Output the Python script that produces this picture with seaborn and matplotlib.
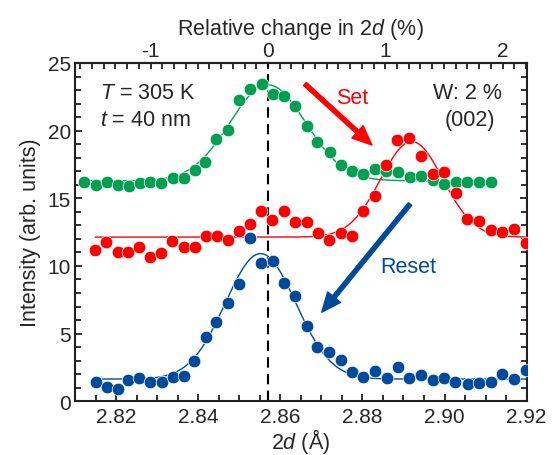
import numpy as np
import pandas as pd
import matplotlib
matplotlib.use("Agg")
import matplotlib.pyplot as plt
import seaborn as sns
from matplotlib.ticker import MultipleLocator, FixedLocator

# 세 가지 상태의 회절 피크 데이터
green_x = [2.8122, 2.8150, 2.8177, 2.8204, 2.8231, 2.8258, 2.8283, 2.8310, 2.8338, 2.8365,
           2.8392, 2.8417, 2.8443, 2.8473, 2.8500, 2.8527, 2.8555, 2.8582, 2.8609, 2.8637,
           2.8664, 2.8690, 2.8721, 2.8747, 2.8774, 2.8802, 2.8831, 2.8857, 2.8887, 2.8916,
           2.8942, 2.8971, 2.8999, 2.9028, 2.9055, 2.9085, 2.9112]
green_y = [16.23, 15.99, 16.19, 16.01, 15.94, 16.13, 16.19, 16.13, 16.53, 16.48,
           17.10, 17.66, 19.39, 20.07, 22.29, 23.08, 23.45, 22.71, 22.59, 21.85,
           20.37, 19.14, 18.40, 17.45, 17.05, 16.80, 17.17, 17.00, 16.92, 16.55,
           16.68, 16.38, 16.06, 16.23, 16.23, 16.23, 16.19]

red_x = [2.8149, 2.8175, 2.8204, 2.8230, 2.8257, 2.8283, 2.8309, 2.8336, 2.8365, 2.8392,
         2.8419, 2.8446, 2.8473, 2.8500, 2.8527, 2.8553, 2.8581, 2.8609, 2.8637, 2.8664,
         2.8691, 2.8719, 2.8747, 2.8775, 2.8801, 2.8831, 2.8857, 2.8885, 2.8914, 2.8942,
         2.8971, 2.8999, 2.9027, 2.9055, 2.9085, 2.9112, 2.9141, 2.9170, 2.9198]
red_y = [11.20, 11.80, 11.01, 11.06, 11.38, 10.64, 10.94, 11.87, 11.38, 11.38,
         12.20, 12.24, 11.94, 12.61, 13.10, 14.04, 13.42, 14.04, 13.27, 13.23,
         12.40, 11.91, 12.47, 12.22, 14.03, 15.17, 17.44, 19.31, 19.46, 18.15,
         16.83, 16.98, 15.40, 13.45, 13.31, 12.64, 12.51, 12.73, 11.66]

blue_x = [2.8150, 2.8177, 2.8205, 2.8230, 2.8257, 2.8283, 2.8311, 2.8338, 2.8365, 2.8391,
          2.8418, 2.8443, 2.8473, 2.8500, 2.8527, 2.8553, 2.8582, 2.8609, 2.8637, 2.8664,
          2.8689, 2.8719, 2.8747, 2.8775, 2.8802, 2.8831, 2.8859, 2.8886, 2.8914, 2.8942,
          2.8971, 2.8999, 2.9025, 2.9056, 2.9085, 2.9112, 2.9141, 2.9169, 2.9198]
blue_y = [1.40, 1.08, 0.91, 1.60, 1.72, 1.45, 1.40, 1.82, 1.89, 3.00,
          4.73, 5.84, 7.27, 8.67, 12.05, 10.22, 10.39, 8.74, 7.76, 5.54,
          3.99, 3.67, 3.07, 2.14, 1.77, 2.26, 1.72, 2.56, 1.72, 1.97,
          1.57, 1.72, 1.40, 1.28, 1.35, 1.40, 2.02, 1.65, 2.31]

x_ticks = [2.82, 2.84, 2.86, 2.88, 2.90, 2.92]
x_ticklabels = ["2.82", "2.84", "2.86", "2.88", "2.90", "2.92"]
top_ticks = [-1, 0, 1, 2]

d0 = 2.857  # 기준 2d 값 (점선)

GREEN = "#00a050"
RED = "#ff0000"
BLUE = "#004a9c"
INK = "#231f20"


def gauss_fit(x, y):
    """가우시안 + 상수 배경 피팅 (격자 탐색 + 선형 최소제곱)"""
    x = np.asarray(x)
    y = np.asarray(y)
    best = None
    for c in np.linspace(x.min(), x.max(), 220):
        for w in np.linspace(0.002, 0.015, 80):
            g = np.exp(-0.5 * ((x - c) / w) ** 2)
            A = np.column_stack([g, np.ones_like(x)])
            coef = np.linalg.lstsq(A, y, rcond=None)[0]
            r = np.sum((A @ coef - y) ** 2)
            if best is None or r < best[0]:
                best = (r, c, w, coef[0], coef[1])
    _, c, w, a, b = best
    xf = np.linspace(x.min(), x.max(), 400)
    return xf, a * np.exp(-0.5 * ((xf - c) / w) ** 2) + b


sns.set_style("ticks")
plt.rcParams["font.family"] = ["Liberation Sans", "DejaVu Sans"]
plt.rcParams["mathtext.fontset"] = "custom"
plt.rcParams["mathtext.it"] = "Liberation Sans:italic"
plt.rcParams["mathtext.rm"] = "Liberation Sans"
plt.rcParams["axes.unicode_minus"] = False
fs_tick = 15
fs_label = 15.5
fs_text = 15.5

fig = plt.figure(figsize=(5.53, 4.56), dpi=100)
ax = fig.add_axes([0.1356, 0.1178, 0.8168, 0.7419])

# 점선 (기준 위치)
ax.axvline(d0, color="black", linestyle=(0, (5, 3)), linewidth=1.5, zorder=1)

for xs, ys, col in [(green_x, green_y, GREEN), (red_x, red_y, RED), (blue_x, blue_y, BLUE)]:
    xf, yf = gauss_fit(xs, ys)
    sns.lineplot(x=xf, y=yf, ax=ax, color=col, linewidth=1.0, zorder=2)
    df = pd.DataFrame({"x": xs, "y": ys})
    sns.scatterplot(data=df, x="x", y="y", ax=ax, color=col, s=82,
                    edgecolor="white", linewidth=0.5, zorder=3)

ax.set_xlim(2.81, 2.92)
ax.set_ylim(0, 25)
ax.xaxis.set_major_locator(FixedLocator(x_ticks))
ax.set_xticklabels(x_ticklabels)
ax.xaxis.set_minor_locator(MultipleLocator(0.005))
ax.yaxis.set_major_locator(MultipleLocator(5))
ax.yaxis.set_minor_locator(MultipleLocator(1))
ax.tick_params(which="both", direction="in", right=True, top=False,
               labelsize=fs_tick, color=INK, width=1.3)
ax.tick_params(which="major", length=5)
ax.tick_params(which="minor", length=4)
ax.tick_params(axis="x", which="major", pad=4)
ax.tick_params(axis="y", which="major", pad=3)
for sp in ax.spines.values():
    sp.set_linewidth(1.5)
    sp.set_color(INK)

ax.set_xlabel("2$\\mathit{d}$ (Å)", fontsize=fs_label, labelpad=0)
ax.set_ylabel("Intensity (arb. units)", fontsize=fs_label, labelpad=5)

# 상단 축: 상대 변화율
sec = ax.secondary_xaxis("top", functions=(lambda v: (v - d0) / d0 * 100,
                                            lambda p: d0 * (1 + p / 100)))
sec.xaxis.set_major_locator(FixedLocator(top_ticks))
sec.xaxis.set_minor_locator(MultipleLocator(0.1))
sec.tick_params(which="both", direction="in", labelsize=fs_tick, color=INK,
                width=1.3, length=4.5, pad=2)
sec.spines["top"].set_linewidth(1.5)
sec.spines["top"].set_color(INK)
sec.set_xlabel("Relative change in 2$\\mathit{d}$ (%)", fontsize=fs_label, labelpad=5)

# 텍스트 주석
ax.text(2.8161, 22.8, "$\\mathit{T}$ = 305 K", fontsize=fs_text, va="center", ha="left")
ax.text(2.8161, 20.86, "$\\mathit{t}$ = 40 nm", fontsize=fs_text, va="center", ha="left")
ax.text(2.9055, 22.84, "W: 2 %", fontsize=fs_text, va="center", ha="center")
ax.text(2.9062, 20.86, "(002)", fontsize=fs_text, va="center", ha="center")
ax.text(2.8774, 22.47, "Set", fontsize=fs_text, va="center", ha="center", color=RED)
ax.text(2.8912, 9.98, "Reset", fontsize=fs_text, va="center", ha="center", color=BLUE)

ax.annotate("", xy=(2.8823, 18.94), xytext=(2.866, 23.45),
            arrowprops=dict(color=RED, width=3, headwidth=12, headlength=14, shrink=0))
ax.annotate("", xy=(2.8701, 6.58), xytext=(2.8916, 14.58),
            arrowprops=dict(color=BLUE, width=3, headwidth=12, headlength=14, shrink=0))

fig.savefig("out.png", dpi=100)
